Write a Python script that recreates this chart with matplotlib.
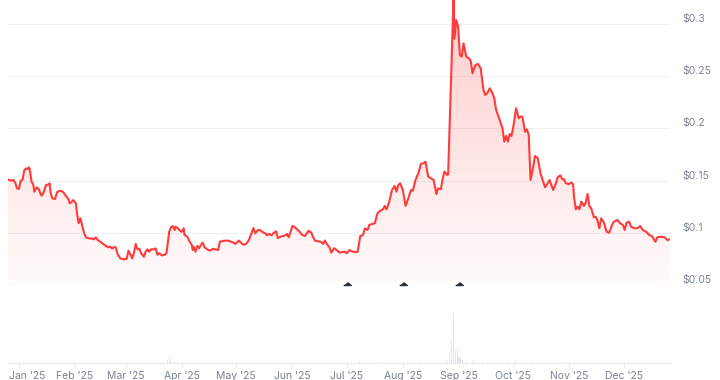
import numpy as np
import pandas as pd
import matplotlib
matplotlib.use("Agg")
import matplotlib.pyplot as plt
import matplotlib.dates as mdates
import matplotlib.transforms as mtransforms
from matplotlib.patches import Polygon

plt.rcParams['font.family'] = ['Inter', 'DejaVu Sans']

# price: day offset from 1 Jan 2025 -> USD
price_day = [
    -6, -4, -3, -2, -1, 0, 1, 2, 3, 4,
    5, 5.5, 6, 7, 8, 8.5, 10, 11, 12.5, 13.5,
    15, 16, 17, 17.5, 18.5, 20, 21, 22.5, 24, 25,
    26.5, 27.5, 28, 29, 30, 31.5, 32, 33, 34, 35,
    36, 37, 38.5, 40.5, 41.5, 42.5, 43.5, 45, 46.5, 48,
    49.5, 50.5, 51.5, 52.5, 53.5, 54.5, 56, 58, 59.5, 60.5,
    62, 62.5, 63.5, 64.5, 65.5, 66.5, 67.5, 69, 70, 71,
    72, 73, 74.5, 75.5, 76.5, 77.5, 79, 80.5, 81.5, 83,
    84, 85, 86, 86.5, 88, 89, 90, 91, 91.5, 93,
    94, 95.5, 96, 96.5, 97.5, 98.5, 99.5, 100.5, 101.5, 102.5,
    104, 105.5, 107, 108.5, 110, 111, 112.5, 114, 115.5, 117,
    118.5, 119.5, 121.5, 123, 124, 125.5, 127, 128.5, 129.5, 130.5,
    132, 133, 134.5, 136, 137, 138, 139.5, 140.5, 142, 143,
    144.5, 146, 147.5, 148, 149, 150.5, 151, 152, 153.5, 155,
    156.5, 158, 159, 160, 161.5, 162.5, 163.5, 165.5, 167, 168,
    169, 170, 171.5, 172.5, 174, 175.5, 177, 178.5, 180, 181,
    182.5, 183, 185, 187, 188.5, 190, 191, 192.5, 193.5, 195,
    196.5, 198, 199.5, 201, 202, 203, 204.5, 206, 207.5, 208.5,
    209.5, 210.5, 212, 213.5, 215, 216.5, 217.5, 219, 220.5, 222,
    223.5, 224.5, 226, 227.5, 229, 230.5, 231.5, 233, 234, 235,
    236.5, 237, 240, 240.5, 241.5, 242.5, 243.5, 244.5, 245.5, 247,
    248.5, 249.5, 250.5, 252, 253.5, 255, 256.5, 257.5, 258.5, 260,
    261.5, 262.5, 263.5, 265.5, 267, 268, 269, 270, 271, 272,
    273, 274.5, 276, 277, 278, 279.5, 280.5, 281.5, 282.5, 283.5,
    285, 286.5, 288, 289.5, 290.5, 292, 293, 295, 296.5, 297.5,
    299, 300, 301, 302, 303.5, 305, 306, 306.5, 307.5, 308.5,
    309.5, 310.5, 312, 313, 314, 315, 316, 317.5, 318.5, 319.5,
    320.5, 321.5, 323, 324.5, 326, 327.5, 328.5, 330.5, 332, 333.5,
    334.5, 335.5, 337, 338, 340, 341.5, 343, 344.5, 346.5, 348,
    349.5, 351, 351.5, 352.5, 354.5, 356.5, 358, 359.5,
]
price_usd = [
    0.151, 0.150, 0.1506, 0.148, 0.1426, 0.142, 0.150, 0.1506, 0.160, 0.1618,
    0.161, 0.1627, 0.161, 0.149, 0.146, 0.1394, 0.1436, 0.1417, 0.1356, 0.1378,
    0.1458, 0.146, 0.1474, 0.1385, 0.133, 0.1324, 0.1388, 0.1403, 0.1397, 0.1378,
    0.134, 0.132, 0.1283, 0.1292, 0.1314, 0.1283, 0.120, 0.1091, 0.1139, 0.1065,
    0.100, 0.0957, 0.0947, 0.0944, 0.0938, 0.0957, 0.0931, 0.0915, 0.0893, 0.0874,
    0.0861, 0.0867, 0.0848, 0.0864, 0.0861, 0.0797, 0.0755, 0.0746, 0.0749, 0.0829,
    0.0778, 0.0755, 0.0804, 0.0893, 0.0842, 0.0848, 0.0804, 0.0771, 0.0819, 0.0842,
    0.0819, 0.0842, 0.0842, 0.0851, 0.079, 0.0804, 0.0784, 0.079, 0.0804, 0.101,
    0.1053, 0.1065, 0.1027, 0.1059, 0.104, 0.102, 0.101, 0.1043, 0.0979, 0.0963,
    0.0925, 0.0883, 0.0835, 0.0867, 0.0819, 0.0874, 0.0852, 0.0883, 0.0906, 0.0861,
    0.0842, 0.0829, 0.0845, 0.0842, 0.0835, 0.0915, 0.0921, 0.0925, 0.0925, 0.0915,
    0.0906, 0.0893, 0.0925, 0.0899, 0.0886, 0.0893, 0.0931, 0.1001, 0.1046, 0.0995,
    0.1027, 0.1027, 0.1008, 0.0995, 0.0976, 0.0989, 0.0976, 0.0995, 0.1014, 0.095,
    0.0963, 0.0969, 0.0979, 0.0989, 0.0957, 0.1034, 0.1065, 0.1059, 0.1034, 0.101,
    0.0979, 0.0969, 0.0995, 0.102, 0.1001, 0.0957, 0.0925, 0.0918, 0.0912, 0.0893,
    0.0925, 0.0893, 0.0861, 0.081, 0.0852, 0.0835, 0.081, 0.0816, 0.0819, 0.0804,
    0.0835, 0.0829, 0.0816, 0.0816, 0.0969, 0.0979, 0.1043, 0.1027, 0.1075, 0.1084,
    0.1091, 0.1187, 0.1212, 0.1225, 0.1257, 0.1225, 0.1298, 0.141, 0.1448, 0.1394,
    0.1458, 0.1474, 0.141, 0.1257, 0.1331, 0.141, 0.1403, 0.1506, 0.157, 0.1659,
    0.1666, 0.1681, 0.1538, 0.1522, 0.1506, 0.1372, 0.1426, 0.1417, 0.1522, 0.1586,
    0.1554, 0.156, 0.325, 0.286, 0.3038, 0.2975, 0.2703, 0.2687, 0.2815, 0.2687,
    0.2671, 0.2649, 0.2528, 0.2607, 0.2617, 0.2575, 0.2368, 0.232, 0.2336, 0.2384,
    0.2336, 0.2288, 0.2176, 0.208, 0.2001, 0.1873, 0.1928, 0.1873, 0.1946, 0.1928,
    0.2017, 0.2193, 0.2097, 0.2113, 0.2113, 0.1968, 0.1991, 0.1937, 0.1506, 0.1586,
    0.1736, 0.1713, 0.157, 0.149, 0.1436, 0.1474, 0.1506, 0.141, 0.1474, 0.1532,
    0.155, 0.1513, 0.1513, 0.1474, 0.1467, 0.148, 0.1467, 0.1346, 0.1225, 0.125,
    0.1225, 0.1298, 0.1257, 0.1288, 0.1372, 0.1257, 0.1234, 0.1148, 0.1154, 0.1116,
    0.1043, 0.1139, 0.1097, 0.101, 0.1001, 0.1075, 0.1106, 0.1123, 0.1091, 0.1075,
    0.1027, 0.1097, 0.1106, 0.1058, 0.1043, 0.1043, 0.1065, 0.1027, 0.1008, 0.0979,
    0.0969, 0.0925, 0.0915, 0.0957, 0.0963, 0.0957, 0.0931, 0.0938,
]

# volume (M USD), only the visible bars
vol_day = [30, 45, 60, 76, 82, 83, 84, 86, 100, 120, 150, 170, 188, 200, 221, 229, 236,
           238, 239, 240, 241, 242, 243, 244, 245, 247, 251, 256, 270, 274, 283, 300, 320]
vol_musd = [1.2, 1.0, 1.5, 1.5, 3, 6, 2.5, 2, 1.5, 1, 1.5, 1, 2.5, 1.5, 2, 1.5, 3,
            11, 23, 50, 13, 14, 6, 4, 3, 2.5, 3, 2, 2, 2.5, 2, 1.5, 1]

event_dates = ['2025-07-01', '2025-08-01', '2025-09-01']
month_starts = pd.date_range('2025-01-01', '2025-12-01', freq='MS')
month_labels = [d.strftime("%b '25") for d in month_starts]
y_ticks = [0.05, 0.1, 0.15, 0.2, 0.25, 0.3]
y_labels = ['$0.05', '$0.1', '$0.15', '$0.2', '$0.25', '$0.3']

LINE = '#ff3b3b'
TEXT = '#7b8494'
GRID = '#eef0f3'

base = pd.Timestamp('2025-01-01')
x_price = mdates.date2num((base + pd.to_timedelta(price_day, unit='D')).to_pydatetime())
x_vol = mdates.date2num((base + pd.to_timedelta(vol_day, unit='D')).to_pydatetime())
x_events = mdates.date2num(pd.to_datetime(event_dates).to_pydatetime())
x_months = mdates.date2num(month_starts.to_pydatetime())

fig = plt.figure(figsize=(7.2, 3.8), dpi=100)
ax = fig.add_axes([8/720, 0.25, 662/720, 0.75])
axv = fig.add_axes([8/720, 17/380, 662/720, 63/380], sharex=ax)

y_lo, y_hi = 0.05, 0.323
x_lo, x_hi = x_price[0], x_price[-1]

# gradient fill under the line
poly = Polygon([(x_lo, y_lo)] + list(zip(x_price, price_usd)) + [(x_hi, y_lo)],
               closed=True, facecolor='none', edgecolor='none')
ax.add_patch(poly)
grad = np.zeros((256, 1, 4))
grad[:, :, :3] = matplotlib.colors.to_rgb(LINE)
grad[:, 0, 3] = np.linspace(0.02, 0.26, 256)
im = ax.imshow(grad, aspect='auto', origin='lower', extent=[x_lo, x_hi, y_lo, y_hi], zorder=1)
im.set_clip_path(poly)

ax.plot(x_price, price_usd, color=LINE, lw=1.5, zorder=3, solid_joinstyle='round')

tri = [(-1, 0), (1, 0), (0, 0.75)]
ax.plot(x_events, [y_lo] * len(x_events), ls='none', marker=tri, markersize=5.5,
        color='#2b303b', zorder=4, clip_on=False)

ax.set_xlim(x_lo, x_hi)
ax.set_ylim(y_lo, y_hi)
ax.set_yticks(y_ticks)
ax.set_yticklabels(y_labels)
ax.yaxis.tick_right()
ax.tick_params(axis='y', length=0, pad=9, labelsize=7.5, colors=TEXT)
for lab in ax.get_yticklabels():
    lab.set_va('bottom')
ax.grid(axis='y', color=GRID, lw=0.8)
ax.set_axisbelow(True)
ax.tick_params(axis='x', which='both', bottom=False, labelbottom=False)
for s in ax.spines.values():
    s.set_visible(False)
ax.patch.set_alpha(0)

axv.bar(x_vol, vol_musd, width=0.6, color='#e1e6ee')
axv.set_ylim(0, 64)
axv.set_yticks([])
for name, s in axv.spines.items():
    s.set_visible(name == 'bottom')
axv.spines['bottom'].set_color('#e8ebef')
axv.set_xticks(x_months)
axv.set_xticklabels(month_labels)
axv.tick_params(axis='x', length=3, width=0.6, color='#e6e9ee', pad=3, labelsize=7.5,
                labelcolor=TEXT)
# first label is pushed right so it stays clear of the left edge
first = axv.get_xticklabels()[0]
first.set_transform(first.get_transform() + mtransforms.ScaledTranslation(8/100, 0, fig.dpi_scale_trans))
axv.patch.set_alpha(0)

fig.savefig('out.png', dpi=100)
